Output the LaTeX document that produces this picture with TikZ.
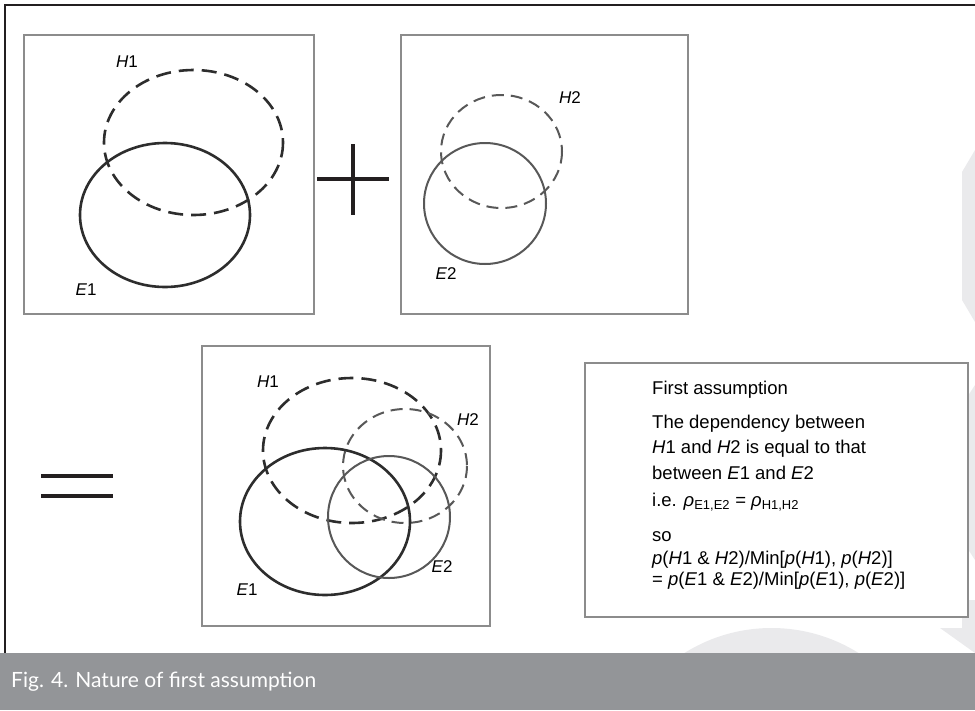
\documentclass[tikz,border=0pt]{standalone}
\usepackage{fontspec}
\setmainfont{Liberation Sans}
\newfontfamily\capfont{Lato}
\usepackage{tikz}
\usepackage{xcolor}
\definecolor{framedark}{RGB}{35,31,32}
\definecolor{boxgray}{RGB}{140,140,140}
\definecolor{ringdark}{RGB}{45,45,45}
\definecolor{ringgray}{RGB}{88,88,88}
\definecolor{capgray}{RGB}{147,149,152}
\definecolor{markgray}{RGB}{234,234,236}

\begin{document}
\begin{tikzpicture}[x=1pt, y=-1pt,
    panel/.style={draw=boxgray, line width=1.6pt},
    evid/.style={draw=ringdark, line width=2.6pt},
    evidb/.style={draw=ringgray, line width=2pt},
    hyp/.style={draw=ringdark, line width=2.6pt, dash pattern=on 15pt off 8pt},
    hypb/.style={draw=ringgray, line width=2pt, dash pattern=on 12pt off 7pt},
    sign/.style={draw=framedark, line width=3.4pt},
    lbl/.style={inner sep=0pt, font=\fontsize{17}{17}\selectfont},
    ruleline/.style={anchor=base west, inner sep=0pt, font=\fontsize{18.5}{20}\selectfont}]
    \useasboundingbox (0,0) rectangle (975,710);
    % faint marks behind everything
    \begin{scope}
      \clip (0,0) rectangle (975,653);
      \fill[markgray] (771.5,792) circle [radius=164];
      \fill[markgray] (975,150) -- (962,172) -- (962,300) -- (975,322) -- cycle;
      \fill[markgray] (975,385) -- (962,405) -- (962,540) -- (975,560) -- cycle;
      \fill[markgray] (962,600) -- (962,628) -- (940,628) -- (975,653) -- (975,600) -- cycle;
    \end{scope}
    \draw[framedark, line width=2.2pt] (5,653) -- (5,5) -- (975,5);

    % first panel
    \draw[panel] (24,35) rectangle (314,314);
    \draw[hyp] (193.5,142.5) ellipse [x radius=89.5, y radius=72.5];
    \draw[evid] (165,215) ellipse [x radius=85, y radius=72];
    \node[lbl] (h1a) at (127,62) {\textit{H}1};
    \node[lbl] (e1a) at (86,290) {\textit{E}1};

    % plus
    \draw[sign] (317,179) -- (389,179);
    \draw[sign] (353,144) -- (353,215);

    % second panel
    \draw[panel] (401,35) rectangle (688,314);
    \draw[hypb] (501.5,151.5) ellipse [x radius=60.5, y radius=56.5];
    \draw[evidb] (485,203.5) ellipse [x radius=61, y radius=60.5];
    \node[lbl] (h2a) at (570,98) {\textit{H}2};
    \node[lbl] (e2a) at (446,274) {\textit{E}2};

    % equals
    \draw[sign] (41,476) -- (113,476);
    \draw[sign] (41,496) -- (113,496);

    % combined panel
    \draw[panel] (202,346) rectangle (490,626);
    \draw[hyp] (352,450.5) ellipse [x radius=89, y radius=72.5];
    \draw[hypb] (405,466) ellipse [x radius=62, y radius=57];
    \draw[evid] (325,521.5) ellipse [x radius=85, y radius=73.5];
    \draw[evidb] (389,517) ellipse [x radius=61, y radius=61];
    \node[lbl] (h1b) at (268,382) {\textit{H}1};
    \node[lbl] (h2b) at (468,420) {\textit{H}2};
    \node[lbl] (e1b) at (247,590) {\textit{E}1};
    \node[lbl] (e2b) at (442,567) {\textit{E}2};

    % text box
    \draw[panel, fill=white] (585,363) rectangle (968,617);
    \node[ruleline] (first) at (652,394) {First assumption};
    \node[ruleline] (dep1) at (652,428) {The dependency between};
    \node[ruleline] (dep2) at (652,453) {\textit{H}1 and \textit{H}2 is equal to that};
    \node[ruleline] (dep3) at (652,479) {between \textit{E}1 and \textit{E}2};
    \node[ruleline] (ie) at (652,506) {i.e. \textit{ρ}\textsubscript{E1,E2} = \textit{ρ}\textsubscript{H1,H2}};
    \node[ruleline] (so) at (652,541) {so};
    \node[ruleline] (ratio1) at (652,564) {\textit{p}(\textit{H}1 \& \textit{H}2)/Min[\textit{p}(\textit{H}1), \textit{p}(\textit{H}2)]};
    \node[ruleline] (ratio2) at (652,585) {= \textit{p}(\textit{E}1 \& \textit{E}2)/Min[\textit{p}(\textit{E}1), \textit{p}(\textit{E}2)]};

    % caption bar
    \fill[capgray] (0,653) rectangle (975,710);
    \node[anchor=west, inner sep=0pt, text=white, font=\capfont\fontsize{21}{21}\selectfont] (caption) at (11,682) {Fig. 4. Nature of first assumption};
\end{tikzpicture}
\end{document}
